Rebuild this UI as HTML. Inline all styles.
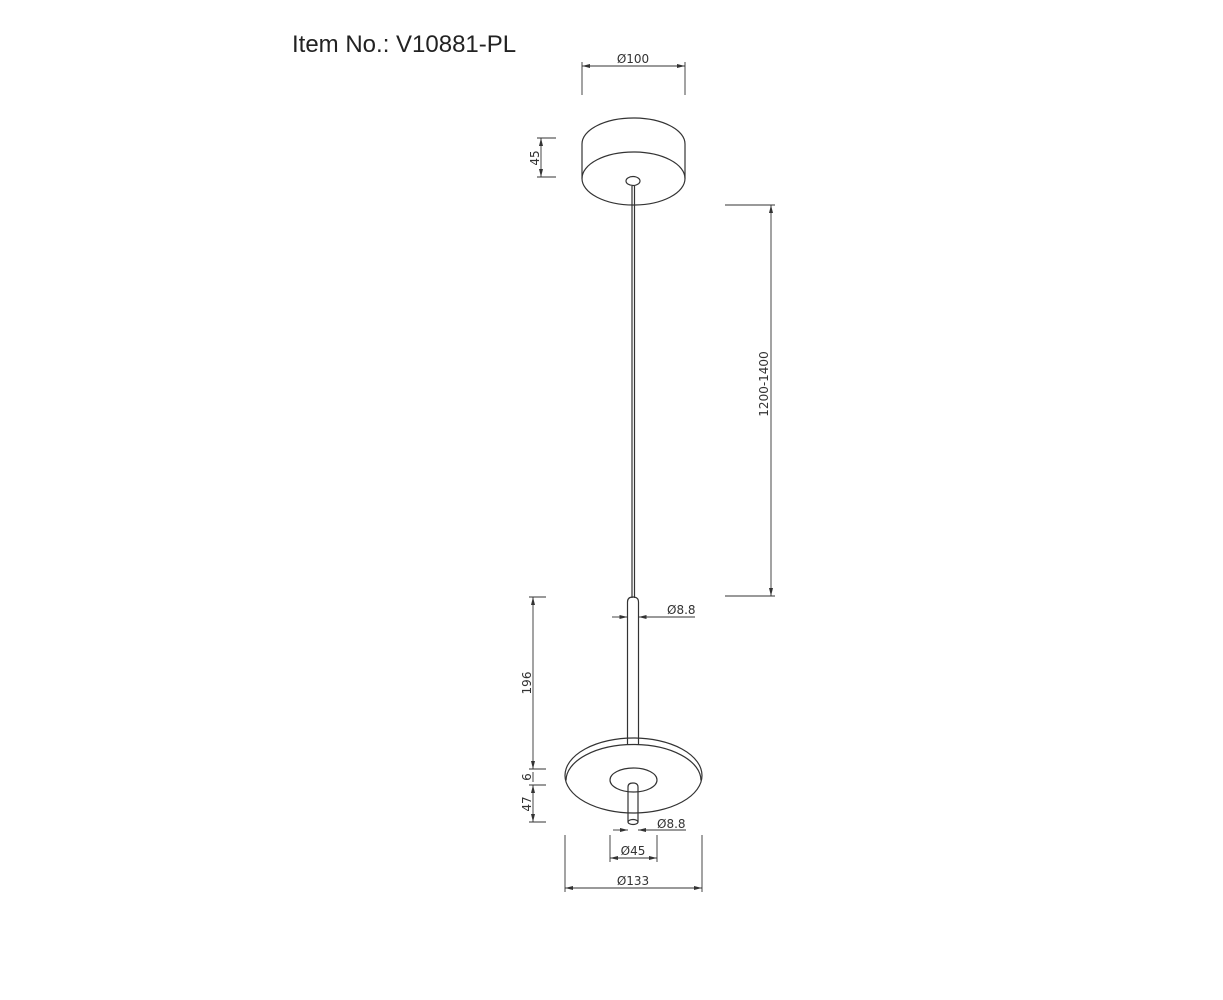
<!DOCTYPE html>
<html><head><meta charset="utf-8"><style>
html,body{margin:0;padding:0;background:#fff;}
svg{display:block;}
text{font-family:"DejaVu Sans","Liberation Sans",sans-serif;fill:#333;}
</style></head><body>
<svg width="1223" height="1000" viewBox="0 0 1223 1000" xmlns="http://www.w3.org/2000/svg">
<defs>
<marker id="a" viewBox="0 0 8 4" refX="8" refY="2" markerWidth="8" markerHeight="4" orient="auto-start-reverse" markerUnits="userSpaceOnUse">
<path d="M0,0 L8,2 L0,4 z" fill="#333"/></marker>
</defs>
<text x="292" y="52" style="font-family:'Liberation Sans',sans-serif;font-size:24px;fill:#222">Item No.: V10881-PL</text>
<g stroke="#333" fill="none" stroke-width="1.2">
<path d="M582,144 A51.5,26 0 0 1 685,144"/>
<line x1="582" y1="144" x2="582" y2="178.5"/>
<line x1="685" y1="144" x2="685" y2="178.5"/>
<ellipse cx="633.5" cy="178.5" rx="51.5" ry="26.5"/>
<ellipse cx="633" cy="181" rx="7" ry="4.5"/>
<line x1="632" y1="186" x2="632" y2="598"/>
<line x1="634.5" y1="186" x2="634.5" y2="598"/>
<path d="M627.5,744 L627.5,602 Q627.5,597 633,597 Q638.5,597 638.5,602 L638.5,744"/>
<ellipse cx="633.5" cy="775.5" rx="68.5" ry="37.5"/>
<path d="M566,780.5 A67.5,36 0 0 1 701,780.5"/>
<ellipse cx="633.5" cy="780" rx="23.5" ry="12"/>
<path d="M628,822 L628,787 Q628,783 633,783 Q638,783 638,787 L638,822"/>
<ellipse cx="633" cy="822" rx="5" ry="2.5"/>
</g>
<g stroke="#333" stroke-width="0.9" fill="none">
<line x1="582" y1="62" x2="582" y2="95"/><line x1="685" y1="62" x2="685" y2="95"/>
<line x1="582" y1="66" x2="685" y2="66" marker-start="url(#a)" marker-end="url(#a)"/>
<line x1="537" y1="138" x2="556" y2="138"/><line x1="537" y1="177" x2="556" y2="177"/>
<line x1="541" y1="138" x2="541" y2="177" marker-start="url(#a)" marker-end="url(#a)"/>
<line x1="725" y1="205" x2="775" y2="205"/><line x1="725" y1="596" x2="775" y2="596"/>
<line x1="771" y1="205" x2="771" y2="596" marker-start="url(#a)" marker-end="url(#a)"/>
<line x1="612" y1="617" x2="627.5" y2="617" marker-end="url(#a)"/>
<line x1="695" y1="617" x2="638.5" y2="617" marker-end="url(#a)"/>
<line x1="529" y1="597" x2="546" y2="597"/>
<line x1="529" y1="769" x2="546" y2="769"/>
<line x1="529" y1="785" x2="546" y2="785"/>
<line x1="529" y1="822" x2="546" y2="822"/>
<line x1="533" y1="597" x2="533" y2="769" marker-start="url(#a)" marker-end="url(#a)"/>
<line x1="533" y1="772" x2="533" y2="782"/>
<line x1="533" y1="785" x2="533" y2="822" marker-start="url(#a)" marker-end="url(#a)"/>
<line x1="613" y1="830" x2="628" y2="830" marker-end="url(#a)"/>
<line x1="686" y1="830" x2="638" y2="830" marker-end="url(#a)"/>
<line x1="610" y1="835" x2="610" y2="862"/><line x1="657" y1="835" x2="657" y2="862"/>
<line x1="610" y1="858" x2="657" y2="858" marker-start="url(#a)" marker-end="url(#a)"/>
<line x1="565" y1="835" x2="565" y2="892"/><line x1="702" y1="835" x2="702" y2="892"/>
<line x1="565" y1="888" x2="702" y2="888" marker-start="url(#a)" marker-end="url(#a)"/>
</g>
<g font-size="12">
<text x="633" y="63" text-anchor="middle">Ø100</text>
<text transform="translate(539,158) rotate(-90)" text-anchor="middle">45</text>
<text transform="translate(768,384) rotate(-90)" text-anchor="middle">1200-1400</text>
<text x="667" y="614">Ø8.8</text>
<text transform="translate(531,683) rotate(-90)" text-anchor="middle">196</text>
<text transform="translate(531,777) rotate(-90)" text-anchor="middle">6</text>
<text transform="translate(531,804) rotate(-90)" text-anchor="middle">47</text>
<text x="657" y="828">Ø8.8</text>
<text x="633" y="855" text-anchor="middle">Ø45</text>
<text x="633" y="885" text-anchor="middle">Ø133</text>
</g>
</svg>
</body></html>
